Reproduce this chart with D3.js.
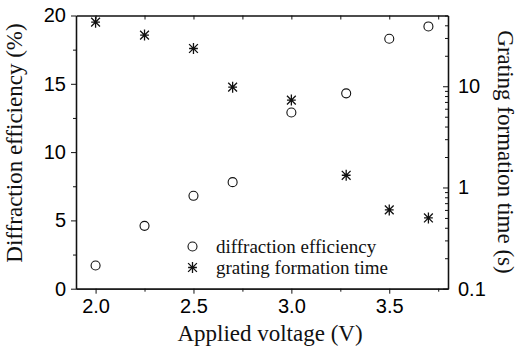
<!DOCTYPE html>
<html lang="en">
  <head>
    <script src="https://d3js.org/d3.v7.min.js"></script>
    <style>
      body { margin: 0; background: #fff; }
      .tick text { font-family: "Liberation Sans", Arial, sans-serif; font-size: 20px; fill: #000; }
      .title { font-family: "Liberation Serif", "Times New Roman", serif; font-size: 23px; fill: #111; }
      .legend { font-family: "Liberation Serif", "Times New Roman", serif; font-size: 19px; fill: #111; }
    </style>
  </head>
  <body>
    <svg width="517" height="349"></svg>
    <script>
      // data
      var voltage = [2.0, 2.25, 2.5, 2.7, 3.0, 3.28, 3.5, 3.7];
      var efficiency = [1.7, 4.6, 6.8, 7.8, 12.9, 14.3, 18.3, 19.2];
      var formationTime = [43, 32, 23.6, 9.8, 7.3, 1.32, 0.6, 0.5];
      var xTicks = [2.0, 2.5, 3.0, 3.5];
      var yTicks = [0, 5, 10, 15, 20];
      var logTicks = [0.1, 1, 10];

      var svg = d3.select("svg");
      var pLeft = 76, pRight = 448, pTop = 15.5, pBottom = 288.7;

      var x = d3.scaleLinear().domain([1.9, 3.8]).range([pLeft, pRight]);
      var y = d3.scaleLinear().domain([0, 20]).range([pBottom, pTop]);
      var yLog = d3.scaleLog().domain([0.1, 50]).range([pBottom, pTop]);

      // minor ticks
      var xMinor = d3.range(2.25, 3.8, 0.5);
      var yMinor = d3.range(2.5, 20, 5);
      var logMinor = [];
      [0.1, 1, 10].forEach(function (d) {
        for (var k = 2; k <= 9; k++) if (d * k <= 50) logMinor.push(d * k);
      });

      // bottom axis
      svg.append("g").attr("transform", "translate(0," + pBottom + ")")
        .call(d3.axisBottom(x).tickValues(xTicks).tickFormat(d3.format(".1f")).tickSize(5).tickSizeOuter(0).tickPadding(5));
      svg.append("g").attr("transform", "translate(0," + pBottom + ")")
        .call(d3.axisBottom(x).tickValues(xMinor).tickFormat("").tickSize(3).tickSizeOuter(0));

      // top axis, ticks inward
      svg.append("g").attr("transform", "translate(0," + pTop + ")")
        .call(d3.axisTop(x).tickValues(xTicks.concat(xMinor)).tickFormat("").tickSize(-4).tickSizeOuter(0));

      // left axis
      svg.append("g").attr("transform", "translate(" + pLeft + ",0)")
        .call(d3.axisLeft(y).tickValues(yTicks).tickSize(5).tickSizeOuter(0).tickPadding(5));
      svg.append("g").attr("transform", "translate(" + pLeft + ",0)")
        .call(d3.axisLeft(y).tickValues(yMinor).tickFormat("").tickSize(3).tickSizeOuter(0));

      // right log axis, ticks inward
      svg.append("g").attr("transform", "translate(" + pRight + ",0)")
        .call(d3.axisRight(yLog).tickValues(logTicks).tickFormat(d3.format("~g")).tickSize(-5).tickSizeOuter(0).tickPadding(10));
      svg.append("g").attr("transform", "translate(" + pRight + ",0)")
        .call(d3.axisRight(yLog).tickValues(logMinor).tickFormat("").tickSize(-3).tickSizeOuter(0));

      svg.selectAll(".domain").attr("stroke", "#111").attr("stroke-width", 1.3);
      svg.selectAll(".tick line").attr("stroke", "#111");

      // axis titles
      svg.append("text").attr("class", "title").attr("text-anchor", "middle")
        .attr("x", 270).attr("y", 341).text("Applied voltage (V)");
      svg.append("text").attr("class", "title").attr("text-anchor", "middle")
        .attr("transform", "translate(22,143)rotate(-90)")
        .text("Diffraction efficiency (%)");
      svg.append("text").attr("class", "title").attr("text-anchor", "middle")
        .attr("transform", "translate(498,152)rotate(90)")
        .text("Grating formation time (s)");

      // star marker: vertical, horizontal and two diagonal arms
      function star(g, r) {
        var a = r * 0.8, h = r * 0.8;
        g.append("path")
          .attr("d", "M0," + (-r) + "V" + r + "M" + (-h) + ",0H" + h +
            "M" + (-a) + "," + (-a) + "L" + a + "," + a + "M" + (-a) + "," + a + "L" + a + "," + (-a))
          .attr("stroke", "#111").attr("stroke-width", 1.3).attr("fill", "none");
      }

      var pts = voltage.map(function (v, i) { return { v: v, e: efficiency[i], t: formationTime[i] }; });

      svg.append("g").selectAll("circle").data(pts).enter().append("circle")
        .attr("cx", function (d) { return x(d.v); })
        .attr("cy", function (d) { return y(d.e); })
        .attr("r", 4.5).attr("fill", "none").attr("stroke", "#111").attr("stroke-width", 1.1);

      svg.append("g").selectAll("g").data(pts).enter().append("g")
        .attr("transform", function (d) { return "translate(" + x(d.v) + "," + yLog(d.t) + ")"; })
        .each(function () { star(d3.select(this), 5.5); });

      // legend
      svg.append("circle").attr("cx", 192.5).attr("cy", 246.5).attr("r", 4.5)
        .attr("fill", "none").attr("stroke", "#111").attr("stroke-width", 1.1);
      star(svg.append("g").attr("transform", "translate(192.5,267.5)"), 5.5);
      svg.append("text").attr("class", "legend").attr("x", 216).attr("y", 252.5).text("diffraction efficiency");
      svg.append("text").attr("class", "legend").attr("x", 216).attr("y", 273.5).text("grating formation time");
    </script>
  </body>
</html>
